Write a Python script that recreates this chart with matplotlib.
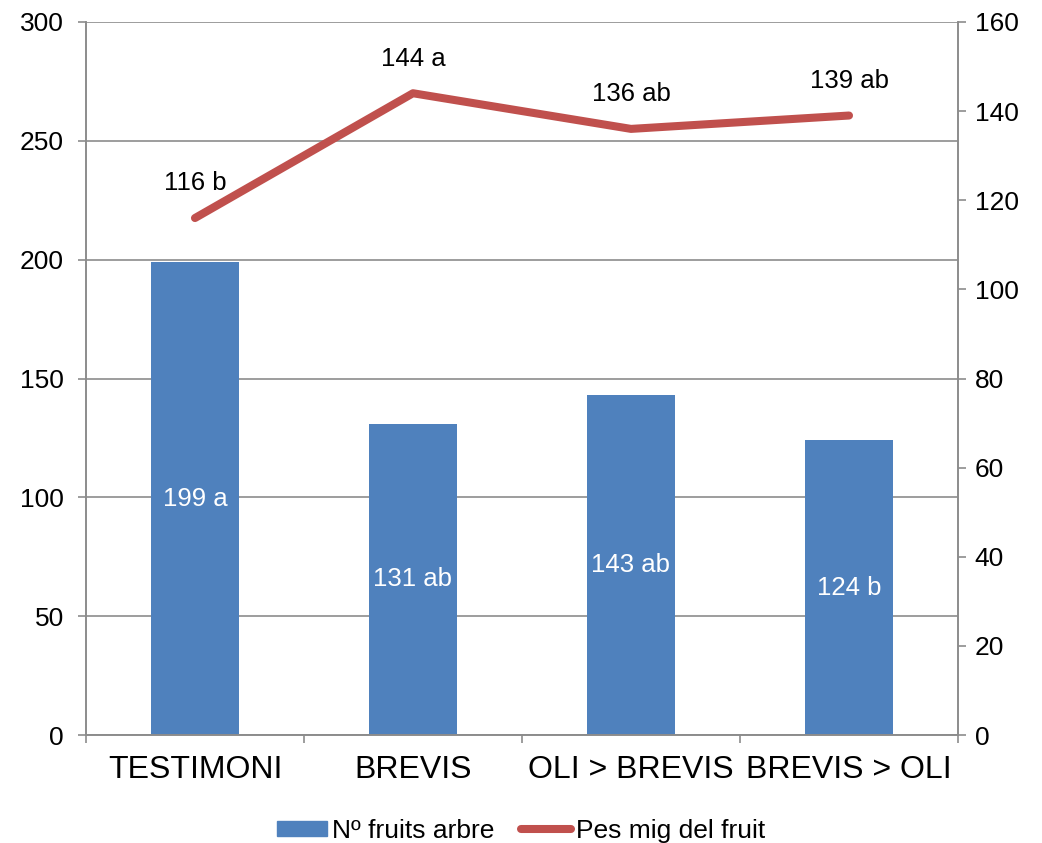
import numpy as np
import matplotlib.pyplot as plt
from matplotlib.lines import Line2D
from matplotlib.patches import Patch

plt.rcParams['font.family'] = ['Liberation Sans', 'DejaVu Sans']

categories = ["TESTIMONI", "BREVIS", "OLI > BREVIS", "BREVIS > OLI"]
fruits = [199, 131, 143, 124]
fruits_labels = ["199 a", "131 ab", "143 ab", "124 b"]
weight = [116, 144, 136, 139]
weight_labels = ["116 b", "144 a", "136 ab", "139 ab"]

bar_color = "#4F81BD"
line_color = "#C0504D"
axis_gray = "#8C8C8C"

fig = plt.figure(figsize=(10.42, 8.43), dpi=100)
ax = fig.add_axes([0.0825, 0.128, 0.8369, 0.846])
ax2 = ax.twinx()

x = np.arange(len(categories))
ax.bar(x, fruits, width=0.4, color=bar_color, zorder=2)
for xi, v, lab in zip(x, fruits, fruits_labels):
    ax.text(xi, v / 2, lab, ha="center", va="center", color="white", fontsize=18.5)

ax.set_xlim(-0.5, len(categories) - 0.5)
ax.set_ylim(0, 300)
ax.set_yticks(np.arange(0, 301, 50))
ax.grid(axis="y", color=axis_gray, linewidth=1.2, zorder=0)
ax.set_axisbelow(True)

ax.set_xticks(np.arange(-0.5, len(categories), 1.0))
ax.set_xticklabels([])
ax.set_xticks(x, minor=True)
ax.set_xticklabels(categories, minor=True, fontsize=23)
ax.tick_params(axis="x", which="minor", length=0, pad=14)
ax.tick_params(axis="x", which="major", length=6, color=axis_gray, width=1.2, direction="out")
ax.tick_params(axis="y", length=6, color=axis_gray, width=1.2, labelsize=19, pad=10)

ax2.plot(x, weight, color=line_color, linewidth=5.8, solid_capstyle="round", solid_joinstyle="round", zorder=3)
for xi, v, lab in zip(x, weight, weight_labels):
    ax2.annotate(lab, (xi, v), xytext=(0, 25), textcoords="offset points",
                 ha="center", va="center", fontsize=18.5)
ax2.set_ylim(0, 160)
ax2.set_yticks(np.arange(0, 161, 20))
ax2.tick_params(axis="y", length=6, color=axis_gray, width=1.2, labelsize=19, pad=6)

for a in (ax, ax2):
    a.spines["top"].set_visible(False)
    for side in ("left", "right", "bottom"):
        a.spines[side].set_color(axis_gray)
        a.spines[side].set_linewidth(1.2)

handles = [Patch(color=bar_color, label="Nº fruits arbre"),
           Line2D([0], [0], color=line_color, linewidth=5.8, solid_capstyle="round", label="Pes mig del fruit")]
fig.legend(handles=handles, loc="lower center", bbox_to_anchor=(0.5, -0.028), ncol=2,
           frameon=False, fontsize=19, handlelength=1.9, handleheight=0.5,
           handletextpad=0.2, columnspacing=1.0)

fig.savefig("out.png", dpi=100)
